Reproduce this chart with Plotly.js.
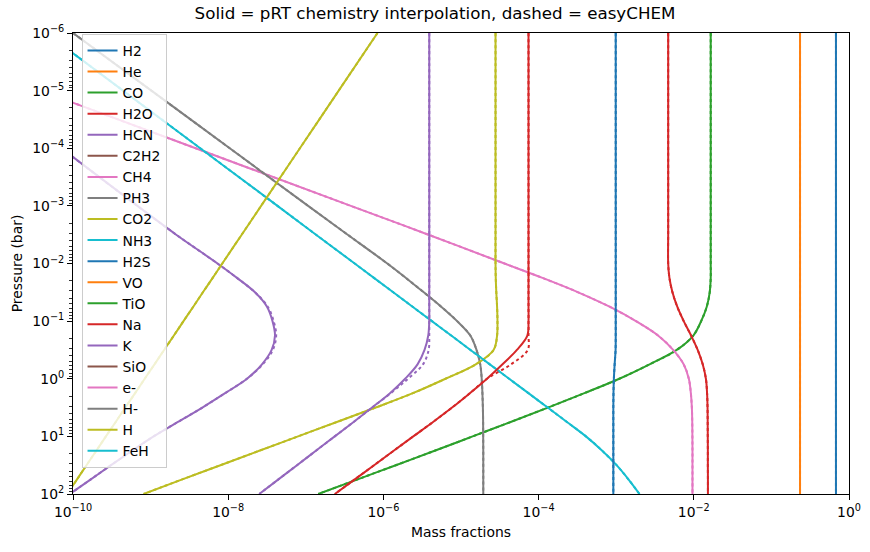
<!DOCTYPE html>
<html>
<head>
<meta charset="utf-8">
<script src="https://cdn.plot.ly/plotly-3.0.1.min.js"></script>
<style>html,body{margin:0;padding:0;background:#fff;}#chart{width:870px;height:552px;}</style>
</head>
<body>
<div id="chart"></div>
<script>
// log10 pressure grid (bar)
const logP = [-6,-5,-4,-3,-2.5,-2,-1.75,-1.5,-1.25,-1,-0.75,-0.5,-0.25,0,0.25,0.5,0.75,1,1.25,1.5,1.75,2];

// log10 mass fractions (pRT chemistry interpolation, solid)
const H2   = [-0.168,-0.168,-0.168,-0.168,-0.168,-0.168,-0.168,-0.168,-0.168,-0.168,-0.168,-0.168,-0.168,-0.168,-0.168,-0.168,-0.168,-0.168,-0.168,-0.168,-0.168,-0.168];
const He   = [-0.631,-0.631,-0.631,-0.631,-0.631,-0.631,-0.631,-0.631,-0.631,-0.631,-0.631,-0.631,-0.631,-0.631,-0.631,-0.631,-0.631,-0.631,-0.631,-0.631,-0.631,-0.631];
const CO   = [-1.782,-1.782,-1.782,-1.782,-1.782,-1.782,-1.782,-1.795,-1.833,-1.905,-2.006,-2.22,-2.57,-2.96,-3.41,-3.88,-4.36,-4.85,-5.34,-5.84,-6.34,-6.84];
const H2O  = [-2.33,-2.33,-2.33,-2.33,-2.33,-2.33,-2.314,-2.275,-2.213,-2.13,-2.035,-1.95,-1.885,-1.844,-1.829,-1.823,-1.821,-1.82,-1.819,-1.819,-1.818,-1.818];
const HCN  = [-12.1,-11.12,-10.15,-9.17,-8.67,-8.138,-7.887,-7.655,-7.50,-7.429,-7.397,-7.44,-7.565,-7.758,-8.04,-8.333,-8.648,-8.961,-9.24,-9.51,-9.775,-10.04];
const C2H2 = [-14,-14,-14,-14,-14,-14,-14,-14,-14,-14,-14,-14,-14,-14,-14,-14,-14,-14,-14,-14,-14,-14];
const CH4  = [-12.42,-10.42,-8.42,-6.42,-5.42,-4.44,-3.95,-3.49,-3.085,-2.746,-2.461,-2.266,-2.131,-2.064,-2.038,-2.025,-2.02,-2.018,-2.017,-2.017,-2.017,-2.017];
const PH3  = [-10,-8.99,-7.98,-6.97,-6.46,-5.95,-5.71,-5.48,-5.255,-5.05,-4.88,-4.80,-4.752,-4.733,-4.724,-4.718,-4.715,-4.714,-4.713,-4.713,-4.713,-4.713];
const CO2  = [-4.555,-4.555,-4.555,-4.555,-4.555,-4.555,-4.552,-4.545,-4.535,-4.53,-4.535,-4.58,-4.81,-5.2,-5.62,-6.1,-6.6,-7.1,-7.6,-8.1,-8.6,-9.09];
const NH3  = [-10.35,-9.355,-8.36,-7.365,-6.868,-6.37,-6.122,-5.873,-5.624,-5.375,-5.126,-4.878,-4.629,-4.38,-4.131,-3.883,-3.635,-3.39,-3.18,-2.995,-2.84,-2.70];
const H2S  = [-3.006,-3.006,-3.006,-3.006,-3.006,-3.006,-3.006,-3.006,-3.006,-3.006,-3.006,-3.008,-3.02,-3.03,-3.035,-3.037,-3.037,-3.037,-3.037,-3.037,-3.037,-3.037];
const VO   = C2H2, TiO = C2H2, SiO = C2H2, eMinus = C2H2, HMinus = C2H2, FeH = C2H2;
const Na   = [-4.13,-4.13,-4.13,-4.13,-4.13,-4.13,-4.13,-4.13,-4.13,-4.13,-4.145,-4.28,-4.465,-4.665,-4.885,-5.115,-5.36,-5.615,-5.868,-6.12,-6.373,-6.626];
const K    = [-5.409,-5.409,-5.409,-5.409,-5.409,-5.409,-5.409,-5.409,-5.409,-5.409,-5.422,-5.47,-5.56,-5.72,-5.915,-6.146,-6.384,-6.627,-6.87,-7.113,-7.357,-7.6];
const H    = [-6.076,-6.576,-7.076,-7.576,-7.826,-8.076,-8.2,-8.326,-8.45,-8.576,-8.70,-8.826,-8.95,-9.076,-9.2,-9.326,-9.45,-9.576,-9.7,-9.826,-9.95,-10.076];

// easyCHEM (dashed) where it visibly differs
const HCN_eC = [-12.1,-11.12,-10.15,-9.17,-8.67,-8.138,-7.887,-7.655,-7.49,-7.415,-7.382,-7.425,-7.555,-7.758,-8.04,-8.333,-8.648,-8.961,-9.24,-9.51,-9.775,-10.04];
const Na_eC  = [-4.13,-4.13,-4.13,-4.13,-4.13,-4.13,-4.13,-4.13,-4.13,-4.13,-4.13,-4.14,-4.355,-4.665,-4.885,-5.115,-5.36,-5.615,-5.868,-6.12,-6.373,-6.626];
const K_eC   = [-5.409,-5.409,-5.409,-5.409,-5.409,-5.409,-5.409,-5.409,-5.409,-5.409,-5.409,-5.417,-5.49,-5.683,-5.905,-6.146,-6.384,-6.627,-6.87,-7.113,-7.357,-7.6];

const species = ['H2','He','CO','H2O','HCN','C2H2','CH4','PH3','CO2','NH3','H2S','VO','TiO','Na','K','SiO','e-','H-','H','FeH'];
const solid = [H2,He,CO,H2O,HCN,C2H2,CH4,PH3,CO2,NH3,H2S,VO,TiO,Na,K,SiO,eMinus,HMinus,H,FeH];
const easy  = [H2,He,CO,H2O,HCN_eC,C2H2,CH4,PH3,CO2,NH3,H2S,VO,TiO,Na_eC,K_eC,SiO,eMinus,HMinus,H,FeH];
const colors = ['#1f77b4','#ff7f0e','#2ca02c','#d62728','#9467bd','#8c564b','#e377c2','#7f7f7f','#bcbd22','#17becf'];

const P = logP.map(v => Math.pow(10, v));
const toLin = a => a.map(v => Math.pow(10, v));

const traces = [];
species.forEach((name, i) => {
  const c = colors[i % 10];
  traces.push({x: toLin(solid[i]), y: P, mode:'lines', name: name,
    line:{color:c, width:2, shape:'spline', smoothing:1}, hoverinfo:'skip'});
  traces.push({x: toLin(easy[i]), y: P, mode:'lines', showlegend:false,
    line:{color:c, width:2, dash:'dot', shape:'spline', smoothing:1}, hoverinfo:'skip'});
});

const sup = e => '10<sup>' + (e < 0 ? '\u2212' + (-e) : e) + '</sup>';
const xt = [-10,-8,-6,-4,-2,0];
const yt = [-6,-5,-4,-3,-2,-1,0,1,2];
const yMinor = [];
for (let d = -6; d < 2; d++) for (let m = 2; m <= 9; m++) yMinor.push(m * Math.pow(10, d));

const font = {family:'DejaVu Sans, sans-serif', color:'#000'};
const layout = {
  width:870, height:552,
  margin:{l:73, r:21, t:33, b:58},
  paper_bgcolor:'#fff', plot_bgcolor:'#fff',
  font: Object.assign({size:13.9}, font),
  title:{text:'Solid = pRT chemistry interpolation, dashed = easyCHEM', font:Object.assign({size:16.7}, font), x:0.5, xanchor:'center', y:0.976, yanchor:'middle'},
  xaxis:{type:'log', range:[-10,0], showgrid:false, zeroline:false,
    showline:true, linecolor:'#000', linewidth:1, mirror:true,
    ticks:'outside', ticklen:5, tickcolor:'#000', tickwidth:1,
    tickvals: xt.map(e => Math.pow(10,e)), ticktext: xt.map(sup),
    tickfont:Object.assign({size:13.9}, font),
    title:{text:'Mass fractions', font:Object.assign({size:13.9}, font), standoff:8}},
  yaxis:{type:'log', range:[2,-6], showgrid:false, zeroline:false,
    showline:true, linecolor:'#000', linewidth:1, mirror:true,
    ticks:'outside', ticklen:5, tickcolor:'#000', tickwidth:1,
    tickvals: yt.map(e => Math.pow(10,e)), ticktext: yt.map(sup),
    tickfont:Object.assign({size:13.9}, font),
    minor:{tickvals:yMinor, ticks:'outside', ticklen:3, tickcolor:'#000', tickwidth:0.8, showgrid:false},
    title:{text:'Pressure (bar)', font:Object.assign({size:13.9}, font), standoff:6}},
  legend:{x:0.011, y:0.998, xanchor:'left', yanchor:'top',
    bgcolor:'rgba(255,255,255,0.8)', bordercolor:'#cccccc', borderwidth:1,
    font:Object.assign({size:13.9}, font), tracegroupgap:0, itemwidth:30},
  showlegend:true
};

Plotly.newPlot('chart', traces, layout, {staticPlot:true, displayModeBar:false});
</script>
</body>
</html>
